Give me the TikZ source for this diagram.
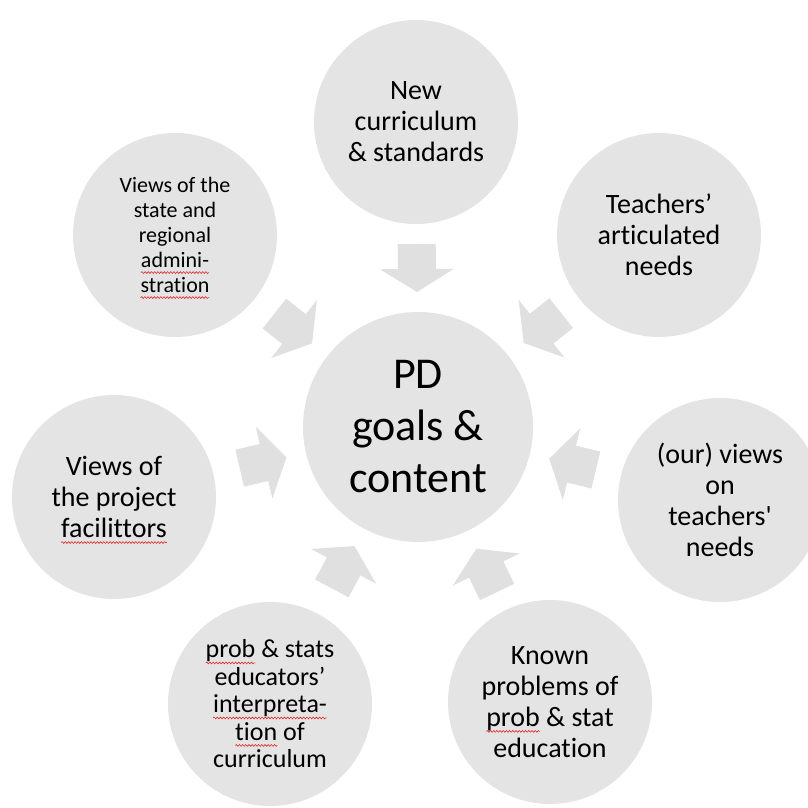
\documentclass[tikz,border=0pt]{standalone}
\usepackage{fontspec}
\setmainfont{Carlito}[Ligatures={TeXOff,CommonOff}]
\usetikzlibrary{decorations.pathmorphing}
\definecolor{bubfill}{RGB}{228,228,228}
\definecolor{arrfill}{RGB}{224,224,224}
\definecolor{spellred}{RGB}{225,40,40}
\tikzset{
  bub/.style={circle, fill=bubfill, minimum size=204pt, inner sep=0pt, align=center,
    text=black, font=\fontsize{28}{31}\selectfont},
  hub/.style={bub, minimum size=230pt, font=\fontsize{44}{52}\selectfont},
  inarrow/.style={fill=arrfill},
  around/.style={shift={(c)}, rotate=#1},
  wordbox/.style={shape=rectangle, fill=none, draw=none, minimum size=0pt,
    inner sep=0pt, outer sep=0pt},
  squiggle/.style={draw=spellred, fill=none, line width=0.6pt, decorate,
    decoration={snake, amplitude=0.9pt, segment length=3.2pt}}
}
\newcommand\spellerr[1]{\tikz[baseline=(w.base)]{\node[wordbox] (w) {#1};
  \path[squiggle, overlay] ([yshift=-5pt]w.base west) -- ([yshift=-5pt]w.base east);}}
\begin{document}
\begin{tikzpicture}[x=1pt,y=1pt]
\useasboundingbox (0,0) rectangle (808,807);
\clip (0,0) rectangle (808,807);
% hub
\node[hub] (c) at (418,380) {PD\\goals \&\\content};
% satellites
\node[bub] (n1) at (416,685) {New\\curriculum\\\& standards};
\node[bub] (n2) at (659,572) {Teachers’\\articulated\\needs};
\node[bub] (n3) at (720,307) {(our) views\\on\\teachers'\\needs};
\node[bub] (n4) at (550,105) {Known\\problems of\\\spellerr{prob} \& stat\\education};
\node[bub, font=\fontsize{26}{27.5}\selectfont] (n5) at (270,103)
  {\spellerr{prob} \& stats\\educators’\\\spellerr{interpreta-}\\\spellerr{tion} of\\curriculum};
\node[bub] (n6) at (114,310) {Views of\\the project\\\spellerr{facilittors}};
\node[bub, font=\fontsize{22}{25}\selectfont] (n7) at (175,572)
  {Views of the\\state and\\regional\\\spellerr{admini-}\\\spellerr{stration}};
% block arrows pointing to the hub
\foreach \ang in {90.4,38.5,-13.6,-64.4,-118.1,-167.0,141.7}{
  \begin{scope}[around=\ang]
    \fill[inarrow] (183,-19) -- (158,-19) -- (158,-37) -- (135,0) -- (158,37)
      -- (158,19) -- (183,19) -- cycle;
  \end{scope}
}
\end{tikzpicture}
\end{document}
